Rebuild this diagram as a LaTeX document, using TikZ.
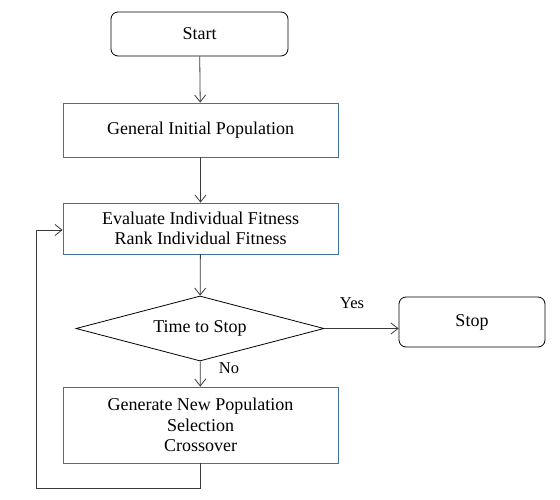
\documentclass[tikz,border=0pt]{standalone}
\usepackage{fontspec}
\setmainfont{Liberation Serif}
\usetikzlibrary{positioning,arrows.meta,shapes.geometric}
\definecolor{boxc}{HTML}{41719C}
\definecolor{linec}{HTML}{3A3A3A}
\begin{document}
\begin{tikzpicture}[x=1pt,y=-1pt,line width=0.8pt,
  font=\fontsize{18}{20.5}\selectfont,
  term/.style={draw=black, rounded corners=7pt, minimum width=177pt, minimum height=44pt},
  proc/.style={draw=boxc, minimum width=275pt, align=center},
  flow/.style={draw=linec, -{Straight Barb[length=7pt,width=11pt]}},
  lab/.style={font=\fontsize{16.5}{18}\selectfont}]
  \useasboundingbox (0,0) rectangle (560,500);
  \node[term] (start) at (199.5,34){Start};
  \node[proc, minimum height=54pt] (init) at (200.5,130){General Initial Population};
  \node[proc, minimum height=51pt] (eval) at (200.5,228.5){Evaluate Individual Fitness\\Rank Individual Fitness};
  \node[diamond, draw=black, aspect=3.8, minimum width=248pt, minimum height=65pt, inner sep=0pt] (stopq) at (200,328.5){Time to Stop};
  \node[term, minimum width=146pt, minimum height=50pt] (stop) at (472,322){Stop};
  \node[proc, minimum height=76pt] (gen) at (200.5,425){Generate New Population\\Selection\\Crossover};
  \coordinate (loop) at (36,488);
  \draw[flow] (start) -- (init);
  \draw[flow] (init) -- (eval);
  \draw[flow] (eval) -- (stopq);
  \draw[flow] (stopq) -- (gen);
  \draw[flow] (stopq.east) -- (stopq.east -| stop.west);
  \draw[flow] (gen.south) |- (loop) |- ([yshift=-1.5pt]eval.west);
  \node[lab] (yes) at (352,303){Yes};
  \node[lab] (no) at (229,368){No};
\end{tikzpicture}
\end{document}
